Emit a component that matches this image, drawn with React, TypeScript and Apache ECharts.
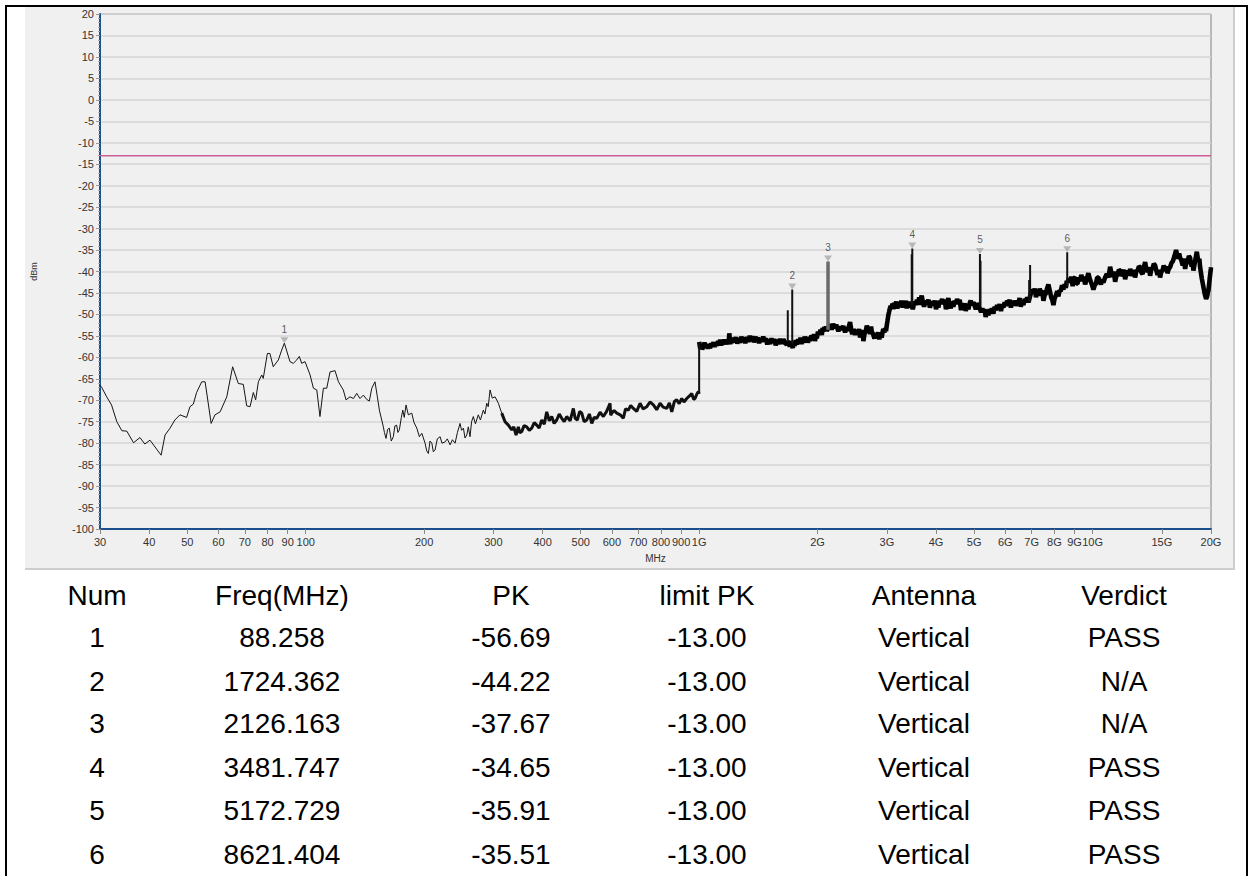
import React, { useEffect, useRef } from "react";
import * as echarts from "echarts";

// ---------- data ----------
const xTickValues = [30, 40, 50, 60, 70, 80, 90, 100, 200, 300, 400, 500, 600, 700, 800, 900, 1000, 2000, 3000, 4000, 5000, 6000, 7000, 8000, 9000, 10000, 15000, 20000];
const limitPK = -13;

// 30 MHz - 315 MHz (thin trace)
const lowTrace: [number, number][] = [
  [30, -66.5], [30.3, -67.0], [31.2, -69.2], [32.1, -71.1], [33.1, -75.0], [34.1, -77.1], [35.1, -77.2], [36.5, -79.9], [37.9, -78.7], [39.0, -80.2], [40.2, -79.3], [42.9, -82.8], [43.9, -78.1], [45.2, -76.5], [46.5, -74.6], [47.9, -73.4], [49.8, -74.0], [50.8, -71.5], [51.8, -70.9], [52.8, -68.2], [54.4, -65.7], [55.5, -65.7], [57.5, -75.4], [58.8, -73.4], [60.6, -72.7], [63.0, -69.2], [65.2, -62.2], [67.4, -66.1], [69.4, -66.3], [70.8, -71.3], [72.2, -71.5], [73.6, -68.2], [74.6, -69.9], [75.8, -65.7], [77.3, -64.1], [78.0, -64.9], [79.9, -59.1], [81.1, -59.1], [82.7, -62.2], [85.2, -60.6], [86.9, -58.3], [88.258, -56.69], [91.2, -61.0], [93.0, -61.4], [94.9, -60.6], [96.3, -59.8], [97.7, -61.4], [99.6, -61.0], [102.6, -64.1], [104.6, -67.2], [106.7, -67.6], [108.7, -73.8], [110.9, -67.2], [113.1, -67.2], [115.3, -63.4], [118.7, -63.1], [121.1, -65.7], [124.6, -67.6], [126.6, -69.9], [129.6, -69.2], [132.2, -69.6], [134.8, -68.4], [137.4, -69.6], [140.1, -68.8], [142.9, -69.8], [145.1, -70.2], [147.2, -67.2], [150.0, -65.7], [152.1, -69.2], [153.9, -72.3], [157.5, -76.2], [158.5, -77.5], [160.0, -78.9], [161.5, -76.8], [163.1, -76.5], [165.0, -79.5], [167.0, -78.5], [168.5, -76.0], [170.3, -75.8], [171.5, -77.5], [173.0, -76.9], [175.0, -74.0], [176.5, -72.3], [178.0, -74.0], [179.9, -71.1], [182.3, -73.4], [186.0, -73.0], [188.5, -75.2], [191.6, -76.5], [194.5, -78.5], [197.3, -77.7], [201.1, -80.0], [203.0, -81.8], [205.0, -82.4], [207.0, -79.5], [209.2, -80.0], [211.0, -82.0], [213.2, -81.6], [216.0, -79.0], [219.6, -78.5], [222.0, -80.0], [226.1, -79.7], [229.0, -79.0], [232.8, -80.4], [236.0, -79.2], [239.7, -80.0], [243.0, -77.5], [246.8, -75.4], [249.0, -77.0], [251.7, -76.5], [254.0, -78.8], [256.7, -78.1], [259.0, -76.2], [261.6, -78.5], [264.0, -75.0], [266.7, -73.8], [270.0, -75.5], [274.6, -73.4], [278.0, -74.6], [282.8, -72.3], [285.5, -73.2], [288.5, -70.7], [291.0, -71.5], [294.1, -67.6], [298.0, -69.5], [302.9, -69.2], [308.8, -70.7], [314.9, -73.0]
];

// 315 MHz - 1 GHz (medium trace)
const midTrace: [number, number][] = [
  [314.9, -73.0], [321.1, -75.0], [327.4, -75.8], [333.9, -76.9], [338, -76.2], [342.5, -78.1], [347.1, -76.2], [350, -77.6], [354.0, -77.3], [359, -75.9], [364.6, -76.2], [370, -77.0], [375.4, -76.5], [381, -75.2], [386.6, -75.8], [392, -76.5], [398.0, -74.6], [404, -75.6], [409.8, -72.7], [416, -74.8], [422.0, -73.8], [428, -75.4], [434.5, -74.6], [441, -73.2], [447.5, -74.2], [454, -75.0], [460.7, -73.8], [470, -74.8], [478.9, -71.9], [484, -74.2], [490.3, -74.6], [497, -72.6], [503.1, -73.0], [510, -75.0], [518.0, -74.6], [526, -73.2], [533.4, -75.4], [541, -74.0], [549.2, -74.2], [560, -72.8], [570.9, -73.8], [582, -72.6], [593.7, -70.7], [596, -73.5], [599.6, -73.0], [608, -72.4], [617.4, -73.0], [630, -73.4], [641.7, -74.2], [650, -72.0], [660.8, -72.3], [670, -71.2], [680.4, -71.9], [694, -72.6], [707.7, -70.7], [720, -72.0], [736.1, -71.5], [750, -70.4], [765.1, -71.1], [780, -72.2], [795.6, -70.7], [810, -71.6], [827.5, -71.9], [840, -70.6], [852.0, -72.7], [865, -70.3], [877.3, -69.9], [890, -70.8], [903.3, -69.6], [915, -70.4], [930.1, -69.6], [945, -69.0], [957.7, -68.4], [968, -69.8], [976.4, -69.6], [986, -68.6], [995.5, -68.0], [1000, -68.5]
];

// 1 GHz - 20 GHz (dense noisy band, spikes listed separately)
const highTrace: [number, number][] = [
  [1000.5, -56.4], [1006, -57.9], [1012, -57.2], [1018, -58.1], [1025, -57.5], [1032, -56.6], [1040, -57.6], [1046, -56.9], [1052, -58.0], [1059, -57.0], [1066, -57.9], [1073, -56.7], [1080, -57.4], [1088, -56.5], [1095, -57.6], [1102, -56.6], [1109, -57.3], [1117, -56.2], [1125, -57.0], [1131, -55.9], [1138, -57.2], [1145, -56.3], [1152, -57.0], [1161, -55.9], [1170, -56.9], [1180, -56.0], [1188, -57.0], [1193, -54.4], [1199, -56.9], [1205, -55.8], [1210, -56.6], [1220, -55.5], [1230, -56.5], [1240, -55.3], [1250, -56.8], [1260, -55.6], [1271, -56.6], [1280, -55.2], [1290, -56.3], [1300, -55.4], [1310, -56.7], [1322, -55.3], [1334, -56.4], [1345, -55.0], [1355, -56.2], [1366, -55.1], [1378, -56.5], [1390, -55.2], [1401, -56.2], [1410, -55.4], [1420, -56.7], [1432, -55.5], [1443, -56.4], [1455, -55.2], [1465, -56.0], [1478, -55.6], [1490, -57.0], [1502, -55.8], [1514, -56.9], [1527, -55.6], [1540, -56.6], [1552, -55.7], [1565, -57.2], [1578, -55.9], [1590, -56.9], [1605, -55.7], [1620, -56.8], [1637, -55.8], [1654, -56.7], [1670, -57.0], [1683, -56.2], [1700, -57.5], [1710, -56.3], [1718, -57.0], [1730, -57.8], [1740, -56.5], [1750, -57.3], [1760, -56.0], [1771, -57.0], [1785, -55.8], [1800, -56.6], [1810, -55.4], [1820, -56.9], [1830, -55.6], [1840, -56.6], [1855, -55.2], [1870, -56.0], [1880, -55.2], [1890, -56.6], [1902, -55.4], [1914, -56.2], [1930, -54.9], [1950, -55.6], [1960, -54.6], [1970, -56.2], [1980, -55.0], [1991, -55.6], [2005, -54.0], [2020, -54.8], [2035, -53.6], [2050, -54.8], [2060, -53.2], [2070, -54.0], [2080, -53.0], [2090, -53.8], [2100, -52.8], [2110, -53.8], [2136, -53.0], [2142, -52.2], [2150, -53.4], [2160, -52.4], [2173, -53.6], [2190, -52.2], [2210, -53.2], [2230, -52.4], [2259, -53.9], [2280, -52.8], [2300, -53.6], [2325, -52.7], [2349, -54.2], [2370, -53.0], [2390, -53.8], [2405, -52.6], [2419, -51.8], [2435, -53.6], [2450, -54.6], [2470, -53.4], [2491, -54.8], [2510, -53.6], [2530, -54.6], [2550, -53.4], [2565, -55.4], [2578, -54.0], [2590, -54.8], [2602, -53.6], [2615, -56.2], [2632, -54.6], [2650, -54.0], [2668, -52.6], [2688, -54.0], [2705, -53.0], [2720, -54.6], [2735, -52.8], [2746, -54.0], [2768, -54.6], [2790, -55.6], [2810, -54.4], [2827, -55.2], [2850, -54.2], [2870, -55.8], [2890, -54.6], [2911, -55.4], [2925, -54.2], [2938, -53.4], [2955, -54.2], [2970, -53.2], [2985, -53.9], [2998, -52.6], [3012, -51.4], [3026, -50.2], [3040, -49.4], [3050, -48.8], [3068, -48.0], [3087, -48.6], [3100, -47.5], [3115, -48.8], [3130, -47.3], [3148, -48.0], [3170, -47.0], [3190, -48.6], [3215, -47.2], [3241, -48.0], [3265, -46.8], [3290, -48.4], [3315, -47.2], [3338, -47.8], [3355, -46.8], [3370, -48.6], [3388, -47.2], [3403, -48.2], [3420, -47.0], [3440, -48.4], [3465, -47.6], [3492, -48.8], [3503, -48.2], [3525, -47.0], [3550, -47.8], [3578, -46.6], [3607, -47.2], [3625, -46.0], [3640, -47.8], [3660, -46.4], [3679, -45.6], [3705, -47.2], [3730, -48.2], [3760, -46.8], [3789, -47.6], [3825, -46.6], [3860, -48.4], [3900, -47.0], [3938, -47.8], [3970, -46.8], [4000, -48.8], [4030, -47.4], [4055, -48.4], [4085, -46.8], [4110, -47.6], [4145, -46.4], [4176, -47.6], [4210, -46.6], [4240, -48.8], [4270, -47.2], [4300, -46.2], [4330, -47.6], [4360, -48.6], [4395, -47.0], [4428, -48.2], [4460, -46.8], [4490, -47.6], [4525, -46.4], [4560, -47.4], [4595, -46.6], [4630, -49.0], [4660, -47.6], [4695, -48.6], [4730, -47.4], [4760, -49.2], [4800, -47.8], [4835, -48.8], [4870, -47.4], [4900, -46.8], [4940, -47.8], [4979, -47.2], [5015, -48.0], [5050, -48.8], [5090, -47.4], [5126, -48.0], [5160, -48.5], [5210, -49.5], [5245, -48.6], [5279, -49.4], [5315, -48.8], [5350, -50.6], [5390, -49.2], [5434, -50.2], [5470, -48.8], [5510, -49.6], [5550, -48.6], [5596, -49.8], [5640, -48.2], [5680, -49.0], [5720, -47.8], [5763, -48.6], [5805, -47.6], [5850, -49.2], [5890, -47.8], [5935, -48.4], [5980, -47.2], [6020, -48.0], [6065, -46.8], [6112, -47.4], [6155, -46.6], [6200, -48.4], [6245, -47.0], [6293, -47.8], [6335, -46.8], [6380, -48.0], [6430, -46.8], [6479, -47.4], [6525, -46.2], [6570, -48.2], [6620, -47.0], [6670, -47.8], [6725, -46.4], [6780, -47.0], [6820, -46.0], [6868, -47.2], [6950, -45.5], [7010, -44.2], [7074, -45.0], [7130, -44.0], [7180, -46.0], [7230, -44.6], [7283, -45.6], [7340, -44.0], [7400, -45.0], [7450, -44.4], [7500, -46.8], [7550, -45.6], [7600, -45.2], [7660, -44.0], [7722, -43.0], [7790, -44.6], [7850, -46.0], [7900, -46.6], [7953, -47.8], [8010, -46.2], [8070, -45.6], [8130, -44.6], [8187, -45.8], [8240, -44.4], [8300, -44.6], [8365, -43.2], [8430, -44.2], [8490, -43.0], [8550, -43.8], [8600, -42.2], [8640, -42.6], [8700, -41.6], [8769, -42.6], [8830, -41.2], [8900, -43.4], [8965, -41.6], [9030, -41.4], [9095, -42.8], [9160, -42.8], [9230, -41.4], [9297, -42.2], [9360, -40.8], [9430, -41.8], [9500, -41.2], [9573, -43.0], [9660, -41.8], [9759, -40.4], [9830, -41.6], [9900, -42.4], [9975, -43.2], [10050, -44.2], [10125, -43.2], [10200, -42.8], [10275, -41.4], [10347, -41.4], [10420, -42.2], [10500, -43.0], [10580, -41.8], [10656, -42.6], [10760, -41.4], [10870, -40.6], [10975, -41.4], [11082, -38.9], [11165, -40.4], [11250, -41.2], [11330, -40.0], [11412, -42.4], [11495, -41.0], [11580, -40.8], [11665, -39.6], [11748, -39.8], [11830, -41.0], [11920, -40.6], [12010, -39.6], [12099, -41.8], [12190, -40.4], [12280, -39.8], [12370, -41.0], [12459, -39.4], [12550, -40.2], [12640, -41.0], [12735, -39.6], [12828, -41.4], [12925, -39.8], [13020, -39.8], [13115, -38.8], [13209, -39.0], [13305, -40.2], [13400, -40.6], [13500, -39.0], [13602, -37.8], [13700, -39.6], [13800, -40.0], [13905, -39.0], [14007, -41.0], [14100, -39.4], [14200, -39.4], [14310, -38.2], [14421, -38.6], [14525, -39.8], [14630, -40.8], [14740, -39.6], [14847, -41.4], [14950, -40.0], [15060, -39.8], [15170, -38.6], [15288, -39.4], [15390, -38.8], [15500, -40.4], [15620, -39.4], [15741, -39.0], [15870, -38.0], [16000, -37.6], [16150, -36.4], [16305, -35.0], [16400, -36.2], [16500, -37.0], [16600, -35.8], [16692, -36.8], [16820, -37.4], [16950, -38.6], [17070, -37.0], [17190, -39.4], [17320, -37.8], [17450, -37.8], [17570, -36.4], [17697, -36.8], [17780, -38.2], [17870, -38.8], [17960, -37.6], [18045, -39.8], [18220, -37.6], [18405, -35.4], [18500, -36.8], [18600, -37.6], [18680, -37.0], [18765, -39.0], [18850, -40.2], [18950, -41.6], [19040, -42.6], [19131, -43.6], [19280, -45.2], [19434, -46.4], [19550, -45.8], [19630, -45.0], [19701, -44.4], [19780, -43.0], [19850, -41.6], [19920, -40.4], [19980, -39.4], [20000, -39.0]
];

// narrow spikes above the band: [freq MHz, base dBm, peak dBm]
const spikes: [number, number, number][] = [
  [1000, -68.5, -56.4],
  [1680, -56.5, -49.0],
  [1724.362, -57.0, -44.22],
  [3470, -47.6, -36.0],
  [3481.747, -48.0, -34.65],
  [5172.729, -48.0, -35.91],
  [5190, -48.2, -37.5],
  [6900, -47.0, -42.0],
  [6938, -47.0, -38.5],
  [8621.404, -43.5, -35.51],
];
// wider grey spike (marker 3)
const greySpikes: [number, number, number][] = [[2126.163, -53.6, -37.67]];

// marker table
const markerNum = ["1", "2", "3", "4", "5", "6"];
const markerFreq = [88.258, 1724.362, 2126.163, 3481.747, 5172.729, 8621.404];
const markerPK = [-56.69, -44.22, -37.67, -34.65, -35.91, -35.51];
const markerAntenna = ["Vertical", "Vertical", "Vertical", "Vertical", "Vertical", "Vertical"];
const markerVerdict = ["PASS", "N/A", "N/A", "PASS", "PASS", "PASS"];
const tableHeaders = ["Num", "Freq(MHz)", "PK", "limit PK", "Antenna", "Verdict"];

const colCenters = [97, 282, 511, 707, 924, 1124];
const rowCenters = [596, 638, 682, 724, 768, 811, 855];

function spikeData(list: [number, number, number][]) {
  const out: (number | null)[][] = [];
  list.forEach(([f, b, p]) => {
    out.push([f, b], [f, p], [f, null]);
  });
  return out;
}

function Chart() {
  const ref = useRef<HTMLDivElement>(null);
  useEffect(() => {
    if (!ref.current) return;
    const chart = echarts.init(ref.current, undefined, { renderer: "svg" });
    const labelFont = "Liberation Sans, Arial, sans-serif";
    chart.setOption({
      animation: false,
      backgroundColor: "transparent",
      grid: {
        left: 100,
        top: 14,
        width: 1111,
        height: 515,
        show: true,
        backgroundColor: "#f0f0f0",
        borderColor: "#808080",
        borderWidth: 1,
        containLabel: false,
        outerBoundsMode: "none",
      },
      xAxis: {
        type: "log",
        logBase: 10,
        min: 30,
        max: 20000,
        name: "MHz",
        nameLocation: "middle",
        nameGap: 24,
        nameTextStyle: { fontSize: 10, color: "#333", fontFamily: labelFont },
        axisLine: { show: true, onZero: false, lineStyle: { color: "#1b4f8c", width: 2 } },
        axisTick: { show: true, length: 5, lineStyle: { color: "#888", width: 1 }, customValues: xTickValues },
        axisLabel: {
          show: true,
          customValues: xTickValues,
          fontSize: 11,
          color: "#333",
          fontFamily: labelFont,
          margin: 7,
          hideOverlap: false,
          formatter: (v: number) => {
            const r = Math.round(v);
            return r >= 1000 ? `${r / 1000}G` : `${r}`;
          },
        },
        splitLine: { show: false },
        minorTick: { show: false },
      },
      yAxis: {
        type: "value",
        min: -100,
        max: 20,
        interval: 5,
        name: "dBm",
        nameLocation: "middle",
        nameGap: 62,
        nameRotate: 90,
        nameTextStyle: { fontSize: 9, color: "#333", fontFamily: labelFont },
        axisLine: { show: true, onZero: false, lineStyle: { color: "#1b4f8c", width: 2 } },
        axisTick: { show: true, length: 4, lineStyle: { color: "#999" } },
        minorTick: { show: true, splitNumber: 5, length: 2, lineStyle: { color: "#aaa" } },
        axisLabel: { fontSize: 11, color: "#333", fontFamily: labelFont, margin: 6 },
        splitLine: { show: true, lineStyle: { color: "#d6d6d6", width: 1.5 } },
      },
      series: [
        {
          type: "line",
          data: lowTrace,
          symbol: "none",
          lineStyle: { color: "#151515", width: 1 },
          z: 3,
        },
        {
          type: "line",
          data: midTrace,
          symbol: "none",
          lineStyle: { color: "#111", width: 3 },
          z: 3,
        },
        {
          type: "line",
          data: highTrace,
          symbol: "none",
          lineStyle: { color: "#000", width: 4.6 },
          z: 3,
        },
        {
          type: "line",
          data: spikeData(spikes),
          symbol: "none",
          connectNulls: false,
          lineStyle: { color: "#111", width: 2 },
          z: 3,
        },
        {
          type: "line",
          data: spikeData(greySpikes),
          symbol: "none",
          connectNulls: false,
          lineStyle: { color: "#6a6a6a", width: 3.5 },
          z: 3,
        },
        {
          type: "line",
          data: [[30, limitPK], [20000, limitPK]],
          symbol: "none",
          lineStyle: { color: "#cc5f98", width: 1.5 },
          z: 4,
        },
        {
          type: "scatter",
          data: markerFreq.map((f, i) => [f, markerPK[i]]),
          symbol: "triangle",
          symbolRotate: 180,
          symbolSize: [8, 6],
          symbolOffset: [0, -3],
          itemStyle: { color: "#a9a9a9" },
          label: {
            show: true,
            position: "top",
            distance: 3,
            fontSize: 10,
            color: "#333",
            fontFamily: labelFont,
            formatter: (p: any) => markerNum[p.dataIndex],
          },
          z: 5,
        },
      ],
    });
    return () => chart.dispose();
  }, []);
  return <div ref={ref} style={{ position: "absolute", left: 0, top: 0, width: 1249, height: 580 }} />;
}

export default function App() {
  const rows: string[][] = markerNum.map((n, i) => [
    n,
    markerFreq[i].toFixed(3),
    markerPK[i].toFixed(2),
    limitPK.toFixed(2),
    markerAntenna[i],
    markerVerdict[i],
  ]);
  const allRows = [tableHeaders, ...rows];
  return (
    <div style={{ position: "absolute", left: 0, top: 0, width: 1249, height: 876, background: "#fff", overflow: "hidden" }}>
      <div style={{ position: "absolute", left: 25, top: 7, width: 1208, height: 561, background: "#f0f0f0", borderRight: "2px solid #cdcdcd", borderBottom: "2px solid #cdcdcd" }} />
      <Chart />
      {allRows.map((r, ri) =>
        r.map((t, ci) => (
          <div
            key={`${ri}-${ci}`}
            style={{
              position: "absolute",
              left: colCenters[ci] - 110,
              width: 220,
              top: rowCenters[ri] - 16,
              height: 32,
              lineHeight: "32px",
              textAlign: "center",
              fontFamily: "Liberation Sans, Arial, sans-serif",
              fontSize: 28,
              color: "#000",
            }}
          >
            {t}
          </div>
        ))
      )}
      <div style={{ position: "absolute", left: 5, top: 5, width: 1243, height: 900, border: "2px solid #000", boxSizing: "border-box", pointerEvents: "none" }} />
    </div>
  );
}
